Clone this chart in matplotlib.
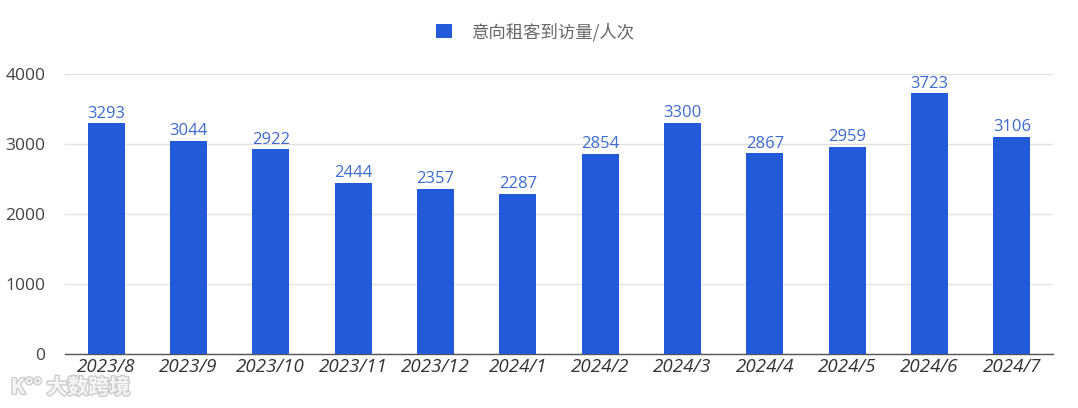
import matplotlib
matplotlib.use("Agg")
import matplotlib.pyplot as plt
import matplotlib.patheffects as pe
import numpy as np

plt.rcParams['font.family'] = ['Noto Sans CJK SC', 'DejaVu Sans']

months = ['2023/8', '2023/9', '2023/10', '2023/11', '2023/12', '2024/1',
          '2024/2', '2024/3', '2024/4', '2024/5', '2024/6', '2024/7']
visits = [3293, 3044, 2922, 2444, 2357, 2287, 2854, 3300, 2867, 2959, 3723, 3106]
series_name = '意向租客到访量/人次'
yticks = [0, 1000, 2000, 3000, 4000]

bar_color = '#235ad9'
label_color = '#3d6bd0'
num_font = ['Open Sans', 'DejaVu Sans']

fig = plt.figure(figsize=(10.78, 4.08), dpi=100)
ax = fig.add_axes([0.0603, 0.1324, 0.9165, 0.6862])

x = np.arange(len(months))
bars = ax.bar(x, visits, width=0.45, color=bar_color, zorder=3, label=series_name)
for xi, v in zip(x, visits):
    ax.text(xi, v + 25, str(v), ha='center', va='bottom', fontsize=12,
            color=label_color, family=num_font, zorder=4)

ax.set_xlim(-0.5, len(months) - 0.5)
ax.set_ylim(0, 4000)
ax.set_yticks(yticks)
ax.set_yticklabels([str(t) for t in yticks], fontsize=12.5, color='#444444',
                   family=num_font)
ax.set_xticks(x)
ax.set_xticklabels(months, fontsize=13.5, color='#333333', style='italic',
                   family=num_font)
ax.tick_params(axis='both', length=0)
ax.tick_params(axis='x', pad=3)
ax.tick_params(axis='y', pad=14)
ax.grid(axis='y', color='#e2e2e2', linewidth=1, zorder=0)
for s in ['top', 'right', 'left']:
    ax.spines[s].set_visible(False)
ax.spines['bottom'].set_color('#555555')
ax.spines['bottom'].set_linewidth(1)

leg = fig.legend(loc='center', bbox_to_anchor=(0.497, 0.922), frameon=False,
                 fontsize=12.5, handlelength=0.9, handleheight=0.9,
                 handletextpad=1.2)
for t in leg.get_texts():
    t.set_color('#666666')

# watermark
fig.text(0.010, 0.035, 'K°° 大数跨境', fontsize=15, color='#f6f6f6', fontweight='bold',
         path_effects=[pe.withStroke(linewidth=2, foreground='#cccccc')], zorder=10)

fig.savefig('out.png', dpi=100)
